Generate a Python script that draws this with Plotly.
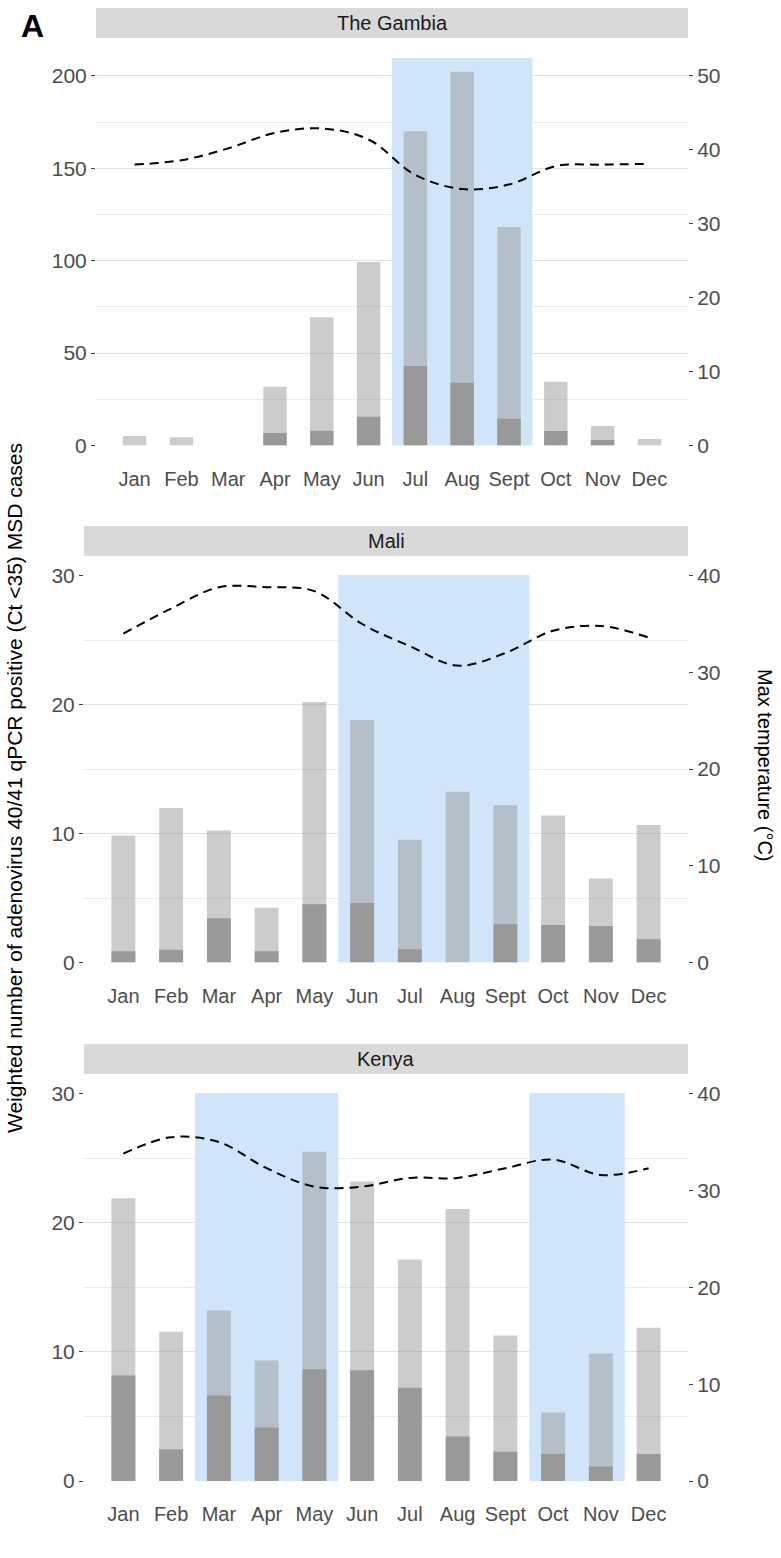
import plotly.graph_objects as go

W, H = 781, 1558

months = ["Jan", "Feb", "Mar", "Apr", "May", "Jun", "Jul", "Aug", "Sept", "Oct", "Nov", "Dec"]
month_num = list(range(1, 13))

# The Gambia
gambia_total = [5.1, 4.4, 0, 31.8, 69.4, 99.3, 170.1, 202.3, 118.3, 34.5, 10.6, 3.5]
gambia_ct = [0, 0, 0, 6.8, 8.0, 15.6, 43.0, 34.0, 14.5, 7.8, 3.0, 0]
gambia_temp = [38.0, 38.6, 40.2, 42.3, 42.9, 41.4, 36.6, 34.7, 35.3, 37.8, 38.0, 38.1]
gambia_rainy = [("Jul", "Sept")]

# Mali
mali_total = [9.85, 11.98, 10.23, 4.25, 20.2, 18.8, 9.51, 13.25, 12.19, 11.39, 6.52, 10.67]
mali_ct = [0.88, 0.98, 3.43, 0.88, 4.51, 4.61, 1.03, 0, 2.96, 2.91, 2.84, 1.80]
mali_temp = [34.0, 36.6, 38.8, 38.8, 38.4, 35.0, 32.7, 30.7, 32.0, 34.3, 34.8, 33.6]
mali_rainy = [("Jun", "Sept")]

# Kenya
kenya_total = [21.9, 11.55, 13.2, 9.33, 25.5, 23.2, 17.15, 21.06, 11.26, 5.31, 9.87, 11.86]
kenya_ct = [8.17, 2.45, 6.62, 4.15, 8.66, 8.58, 7.22, 3.45, 2.27, 2.11, 1.13, 2.09]
kenya_temp = [33.8, 35.5, 35.0, 32.3, 30.4, 30.4, 31.3, 31.3, 32.3, 33.2, 31.6, 32.3]
kenya_rainy = [("Mar", "May"), ("Oct", "Nov")]

FONT = "Liberation Sans, Arial, sans-serif"
TICK_COL = "#4d4d4d"

panels = [
    dict(name="The Gambia", total=gambia_total, ct=gambia_ct, temp=gambia_temp, rainy=gambia_rainy,
         top=209.7, ratio=4.0, dtick=50, left=96, ptop=58, pbot=445.5, stop=8),
    dict(name="Mali", total=mali_total, ct=mali_ct, temp=mali_temp, rainy=mali_rainy,
         top=30.05, ratio=0.75, dtick=10, left=84, ptop=575, pbot=962.5, stop=526),
    dict(name="Kenya", total=kenya_total, ct=kenya_ct, temp=kenya_temp, rainy=kenya_rainy,
         top=30.05, ratio=0.75, dtick=10, left=84, ptop=1093, pbot=1481, stop=1044),
]
RIGHT = 688


def px_x(p):
    return p / W


def px_y(p):
    return 1 - p / H


fig = go.Figure()
layout = {}
shapes = []
annotations = []

for i, p in enumerate(panels):
    n = i + 1
    xa = "x" if n == 1 else f"x{n}"
    ya = "y" if n == 1 else f"y{n}"
    ya2 = f"y{n + 3}"

    fig.add_trace(go.Bar(x=month_num, y=p["total"], xaxis=xa, yaxis=ya, width=0.5,
                         marker=dict(color="rgba(153,153,153,0.5)", line_width=0)))
    fig.add_trace(go.Bar(x=month_num, y=p["ct"], xaxis=xa, yaxis=ya, width=0.5,
                         marker=dict(color="#999999", line_width=0)))
    fig.add_trace(go.Scatter(x=month_num, y=p["temp"], xaxis=xa, yaxis=ya2, mode="lines",
                             line=dict(color="black", width=2, dash="9px,6px", shape="spline")))

    xdom = [px_x(p["left"]), px_x(RIGHT)]
    ydom = [px_y(p["pbot"]), px_y(p["ptop"])]
    layout["xaxis" if n == 1 else f"xaxis{n}"] = dict(
        domain=xdom, anchor=ya, range=[0.175, 12.825], tickvals=month_num, ticktext=months,
        showgrid=False, zeroline=False, showline=False, ticks="outside", ticklen=15,
        tickcolor="rgba(0,0,0,0)", automargin=False,
        tickfont=dict(size=20, color=TICK_COL, family=FONT))
    layout["yaxis" if n == 1 else f"yaxis{n}"] = dict(
        domain=ydom, anchor=xa, range=[0, p["top"]], dtick=p["dtick"], tick0=0,
        showgrid=True, gridcolor="#e2e2e2", gridwidth=1,
        minor=dict(dtick=p["dtick"] / 2, tick0=0, showgrid=True, gridcolor="#ececec", gridwidth=0.8),
        zeroline=False, showline=False, ticks="outside", ticklen=4, tickcolor="#444",
        automargin=False, tickfont=dict(size=21, color=TICK_COL, family=FONT))
    layout[f"yaxis{n + 3}"] = dict(
        overlaying=ya, side="right", anchor=xa, range=[0, p["top"] / p["ratio"]], dtick=10, tick0=0,
        showgrid=False, zeroline=False, showline=False, ticks="outside", ticklen=4, tickcolor="#444",
        automargin=False, tickfont=dict(size=21, color=TICK_COL, family=FONT))

    # rainy season bands
    for a, b in p["rainy"]:
        shapes.append(dict(type="rect", xref=xa, yref=ya, x0=months.index(a) + 0.5,
                           x1=months.index(b) + 1.5, y0=0, y1=p["top"], fillcolor="#d0e4fa",
                           line_width=0, layer="between"))

    # facet strip
    shapes.append(dict(type="rect", xref="paper", yref="paper", x0=xdom[0], x1=xdom[1],
                       y0=px_y(p["stop"] + 30), y1=px_y(p["stop"]), fillcolor="#d9d9d9",
                       line_width=0, layer="below"))
    annotations.append(dict(x=(xdom[0] + xdom[1]) / 2, y=px_y(p["stop"] + 15), xref="paper",
                            yref="paper", xanchor="center", yanchor="middle", text=p["name"],
                            showarrow=False, font=dict(size=20, color="#1a1a1a", family=FONT)))

annotations.append(dict(x=px_x(15), y=px_y(788), xref="paper", yref="paper", textangle=-90,
                        xanchor="center", yanchor="middle",
                        text="Weighted number of adenovirus 40/41 qPCR positive (Ct <35) MSD cases",
                        showarrow=False, font=dict(size=21, color="black", family=FONT)))
annotations.append(dict(x=px_x(765), y=px_y(765), xref="paper", yref="paper", textangle=90,
                        xanchor="center", yanchor="middle", text="Max temperature (°C)",
                        showarrow=False, font=dict(size=20, color="black", family=FONT)))
annotations.append(dict(x=px_x(32), y=px_y(26), xref="paper", yref="paper", xanchor="center",
                        yanchor="middle", text="<b>A</b>", showarrow=False,
                        font=dict(size=32, color="black", family=FONT)))

fig.update_layout(
    width=W, height=H, margin=dict(l=0, r=0, t=0, b=0, autoexpand=False),
    paper_bgcolor="white", plot_bgcolor="white", showlegend=False, barmode="overlay",
    shapes=shapes, annotations=annotations, **layout)

fig.write_html("out.html", config={"displayModeBar": False},
               post_script="document.body.style.margin='0';")
